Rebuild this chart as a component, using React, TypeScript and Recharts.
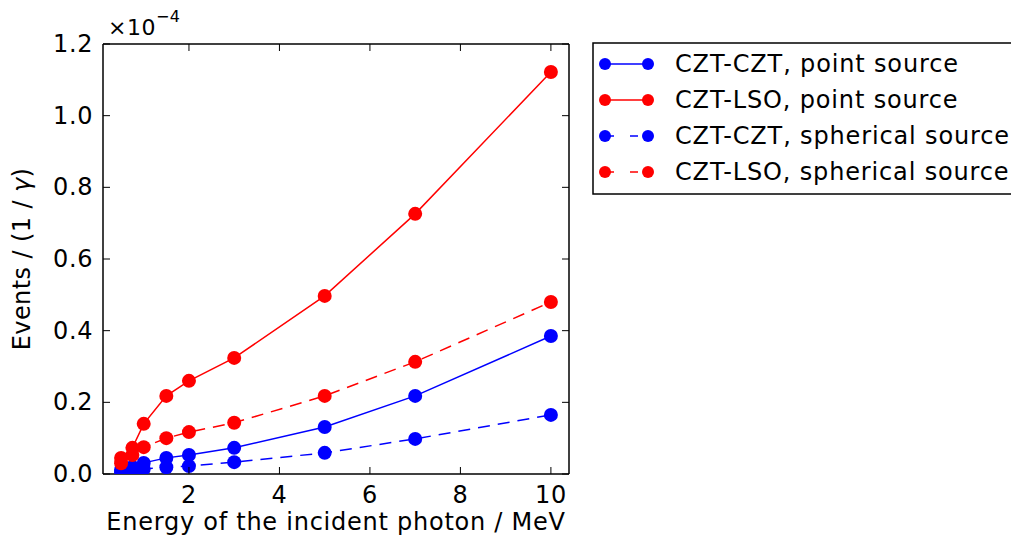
import React from 'react'
import { LineChart, Line, XAxis, YAxis, Legend } from 'recharts'

// photon energy in MeV
const energy = [0.5, 0.75, 1, 1.5, 2, 3, 5, 7, 10]

// events per photon, in units of 1e-4
const cztCztPoint = [0.012, 0.02, 0.031, 0.045, 0.053, 0.073, 0.131, 0.218, 0.385]
const cztLsoPoint = [0.045, 0.073, 0.14, 0.218, 0.26, 0.324, 0.497, 0.726, 1.122]
const cztCztSpherical = [0.005, 0.008, 0.014, 0.019, 0.022, 0.033, 0.059, 0.098, 0.165]
const cztLsoSpherical = [0.03, 0.053, 0.075, 0.1, 0.117, 0.143, 0.218, 0.313, 0.48]

const xTicks = [2, 4, 6, 8, 10]
const yTicks = [0, 0.2, 0.4, 0.6, 0.8, 1.0, 1.2]

const FONT = '"DejaVu Sans", sans-serif'
const BLUE = '#0000ff'
const RED = '#ff0000'
const DASH = '12 8'

const toPoints = (ys: number[]) => energy.map((x, i) => ({ x, y: ys[i] }))

const series = [
  { name: 'CZT-CZT, point source', color: BLUE, dashed: false, data: toPoints(cztCztPoint) },
  { name: 'CZT-LSO, point source', color: RED, dashed: false, data: toPoints(cztLsoPoint) },
  { name: 'CZT-CZT, spherical source', color: BLUE, dashed: true, data: toPoints(cztCztSpherical) },
  { name: 'CZT-LSO, spherical source', color: RED, dashed: true, data: toPoints(cztLsoSpherical) },
]

// ticks point inward, like classic matplotlib
const BottomTick = (p: any) => (
  <g>
    <line x1={p.x} x2={p.x} y1={p.y} y2={p.y - 7} stroke="#000" strokeWidth={1} />
    <text x={p.x} y={p.y + 29} textAnchor="middle" fontSize={24} letterSpacing={0.6} fontFamily={FONT} fill="#000">
      {p.payload.value}
    </text>
  </g>
)
const TopTick = (p: any) => (
  <line x1={p.x} x2={p.x} y1={p.y} y2={p.y + 7} stroke="#000" strokeWidth={1} />
)
const LeftTick = (p: any) => (
  <g>
    <line x1={p.x} x2={p.x + 7} y1={p.y} y2={p.y} stroke="#000" strokeWidth={1} />
    <text x={p.x - 10} y={p.y + 8} textAnchor="end" fontSize={24} letterSpacing={0.6} fontFamily={FONT} fill="#000">
      {Number(p.payload.value).toFixed(1)}
    </text>
  </g>
)
const RightTick = (p: any) => (
  <line x1={p.x} x2={p.x - 7} y1={p.y} y2={p.y} stroke="#000" strokeWidth={1} />
)

const LegendBox = () => (
  <svg width={440} height={154} style={{ display: 'block' }}>
    <rect x={1} y={1} width={436} height={151} fill="#fff" stroke="#000" strokeWidth={1.5} />
    {series.map((s, i) => {
      const cy = 22 + i * 36
      return (
        <g key={s.name}>
          <line x1={13} x2={56} y1={cy} y2={cy} stroke={s.color} strokeWidth={1.5}
            strokeDasharray={s.dashed ? '8 16' : undefined} strokeDashoffset={s.dashed ? -1 : 0} />
          <circle cx={13} cy={cy} r={6} fill={s.color} />
          <circle cx={56} cy={cy} r={6} fill={s.color} />
          <text x={83} y={cy + 8} fontSize={24} letterSpacing={0.85} fontFamily={FONT} fill="#000">{s.name}</text>
        </g>
      )
    })}
  </svg>
)

export default function App() {
  return (
    <div style={{ position: 'absolute', left: 0, top: 0, width: 1011, height: 540, overflow: 'hidden', background: '#fff' }}>
      <LineChart width={1011} height={540} margin={{ top: 34, right: 432, bottom: 36, left: 43 }}>
        <XAxis xAxisId="b" type="number" dataKey="x" domain={[0.1, 10.4]} ticks={xTicks}
          allowDataOverflow height={30} tickSize={0} tickMargin={0} tickLine={false}
          axisLine={{ stroke: '#000', strokeWidth: 1.5 }} tick={BottomTick} />
        <XAxis xAxisId="t" orientation="top" type="number" dataKey="x" domain={[0.1, 10.4]} ticks={xTicks}
          allowDataOverflow height={10} tickSize={0} tickMargin={0} tickLine={false}
          axisLine={{ stroke: '#000', strokeWidth: 1.5 }} tick={TopTick} />
        <YAxis yAxisId="l" type="number" domain={[0, 1.2]} ticks={yTicks} allowDataOverflow
          width={60} tickSize={0} tickMargin={0} tickLine={false}
          axisLine={{ stroke: '#000', strokeWidth: 1.5 }} tick={LeftTick} />
        <YAxis yAxisId="r" orientation="right" type="number" domain={[0, 1.2]} ticks={yTicks} allowDataOverflow
          width={10} tickSize={0} tickMargin={0} tickLine={false}
          axisLine={{ stroke: '#000', strokeWidth: 1.5 }} tick={RightTick} />
        {series.map(s => (
          <Line key={s.name} xAxisId="b" yAxisId="l" data={s.data} dataKey="y" name={s.name}
            type="linear" stroke={s.color} strokeWidth={1.5}
            strokeDasharray={s.dashed ? DASH : undefined}
            dot={{ r: 7, fill: s.color, stroke: s.color, strokeWidth: 0, strokeDasharray: '' }}
            activeDot={false} isAnimationActive={false} />
        ))}
        <Legend layout="vertical" align="center" verticalAlign="middle" content={LegendBox}
          wrapperStyle={{ position: 'absolute', left: 592, top: 42, width: 440, height: 154 }} />
        <text x={108} y={35} fontSize={22} letterSpacing={0.5} fontFamily={FONT} fill="#000">
          ×10<tspan dy={-13} fontSize={16}>−4</tspan>
        </text>
        <text x={336} y={530} textAnchor="middle" fontSize={24} letterSpacing={0.75} fontFamily={FONT} fill="#000">
          Energy of the incident photon / MeV
        </text>
        <text transform="translate(30 259) rotate(-90)" textAnchor="middle" fontSize={24} letterSpacing={0.4} fontFamily={FONT} fill="#000">
          Events / (1 / <tspan fontStyle="italic">γ</tspan>)
        </text>
      </LineChart>
    </div>
  )
}
